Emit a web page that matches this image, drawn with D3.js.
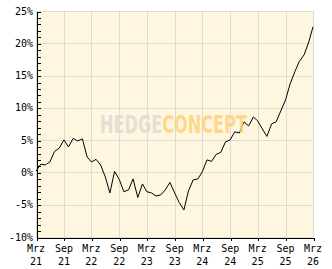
<!DOCTYPE html>
<html>
<head>
<meta charset="utf-8">
<script src="https://cdn.jsdelivr.net/npm/d3@7"></script>
<style>
body { margin: 0; background: #fff; }
svg { display: block; }
.lbl { font-family: "DejaVu Sans Mono", monospace; font-size: 10px; fill: #000; }
</style>
</head>
<body>
<svg width="332" height="269"></svg>
<script>
// monthly values, % performance
var months = ["2021-03","2021-04","2021-05","2021-06","2021-07","2021-08","2021-09","2021-10","2021-11","2021-12",
    "2022-01","2022-02","2022-03","2022-04","2022-05","2022-06","2022-07","2022-08","2022-09","2022-10",
    "2022-11","2022-12","2023-01","2023-02","2023-03","2023-04","2023-05","2023-06","2023-07","2023-08",
    "2023-09","2023-10","2023-11","2023-12","2024-01","2024-02","2024-03","2024-04","2024-05","2024-06",
    "2024-07","2024-08","2024-09","2024-10","2024-11","2024-12","2025-01","2025-02","2025-03","2025-04",
    "2025-05","2025-06","2025-07","2025-08","2025-09","2025-10","2025-11","2025-12","2026-01","2026-02","2026-03"];
var values = [0.2, 1.27, 1.16, 1.63, 3.26, 3.75, 5.04, 3.95, 5.27, 4.88,
    5.19, 2.4, 1.63, 2.02, 1.16, -0.7, -3.18, 0.16, -1.1, -2.98,
    -2.71, -1.0, -3.88, -1.78, -2.98, -3.18, -3.64, -3.49, -2.71, -1.55,
    -3.18, -4.65, -5.81, -2.87, -1.16, -1.0, 0.08, 1.94, 1.71, 2.79,
    3.1, 4.73, 5.04, 6.28, 6.12, 7.83, 7.2, 8.6, 7.98, 6.74,
    5.58, 7.52, 7.83, 9.53, 11.24, 13.72, 15.58, 17.2, 18.2, 20.2, 22.56];

var yTicks = [-10, -5, 0, 5, 10, 15, 20, 25];
var xTickDates = ["2021-03","2021-09","2022-03","2022-09","2023-03","2023-09",
    "2024-03","2024-09","2025-03","2025-09","2026-03"];
var xTickMonths = ["Mrz","Sep","Mrz","Sep","Mrz","Sep","Mrz","Sep","Mrz","Sep","Mrz"];
var xTickYears = ["21","21","22","22","23","23","24","24","25","25","26"];

var svg = d3.select("svg");
var mLeft = 36, mRight = 313, mTop = 11, mBottom = 237;
var parse = d3.timeParse("%Y-%m");
var data = months.map(function(m, i) { return {date: parse(m), value: values[i]}; });
var xTicks = xTickDates.map(parse);

var x = d3.scaleTime()
    .domain([parse("2021-03"), parse("2026-03")])
    .range([mLeft, mRight]);
var y = d3.scaleLinear().domain([-10, 25]).range([mBottom, mTop]);

// plot background
svg.append("rect")
    .attr("x", mLeft).attr("y", mTop)
    .attr("width", mRight - mLeft).attr("height", mBottom - mTop)
    .attr("fill", "#fef6df");

// grid
var grid = svg.append("g").attr("stroke", "#dddbd6").attr("shape-rendering", "crispEdges");
grid.selectAll("line.h").data(yTicks).enter().append("line")
    .attr("x1", mLeft).attr("x2", mRight)
    .attr("y1", function(d) { return Math.round(y(d)) + 0.5; })
    .attr("y2", function(d) { return Math.round(y(d)) + 0.5; });
grid.selectAll("line.v").data(xTicks).enter().append("line")
    .attr("y1", mTop).attr("y2", mBottom)
    .attr("x1", function(d) { return Math.round(x(d)) + 0.5; })
    .attr("x2", function(d) { return Math.round(x(d)) + 0.5; });

// line
var line = d3.line()
    .x(function(d) { return x(d.date); })
    .y(function(d) { return y(d.value); });
svg.append("path")
    .datum(data)
    .attr("d", line)
    .attr("fill", "none")
    .attr("stroke", "#000")
    .attr("stroke-width", 1);

// watermark, one text with two coloured parts
var wm = svg.append("text")
    .attr("x", 100).attr("y", 133)
    .attr("textLength", 147).attr("lengthAdjust", "spacingAndGlyphs")
    .style("font-family", "'DejaVu Sans Condensed', 'DejaVu Sans', sans-serif")
    .style("font-weight", "bold")
    .style("font-size", "24px")
    .attr("fill-opacity", 0.85);
wm.append("tspan").attr("fill", "#dedbd4").text("HEDGE");
wm.append("tspan").attr("fill", "#ffd27a").text("CONCEPT");

// axes
var yAxis = d3.axisLeft(y)
    .tickValues(d3.range(-10, 26, 1))
    .tickSizeInner(-4).tickSizeOuter(0)
    .tickFormat("");
svg.append("g")
    .attr("transform", "translate(" + (mLeft + 0.5) + ",0)")
    .attr("shape-rendering", "crispEdges")
    .call(yAxis)
    .call(function(g) { g.selectAll(".tick line").attr("transform", "translate(0,0.5)"); });

var xAxis = d3.axisBottom(x)
    .tickValues(xTicks)
    .tickSizeInner(3).tickSizeOuter(0)
    .tickFormat("");
svg.append("g")
    .attr("transform", "translate(0," + (mBottom + 0.5) + ")")
    .attr("shape-rendering", "crispEdges")
    .call(xAxis)
    .call(function(g) { g.selectAll(".tick line").attr("transform", "translate(0.5,0)"); });

// labels
svg.selectAll("text.yl").data(yTicks).enter().append("text")
    .attr("class", "lbl")
    .attr("x", 33)
    .attr("y", function(d) { return y(d); })
    .attr("dy", "0.35em")
    .attr("text-anchor", "end")
    .text(function(d) { return d + "%"; });

var xl = svg.selectAll("g.xl").data(xTicks).enter().append("g")
    .attr("transform", function(d) { return "translate(" + x(d) + ",0)"; });
xl.append("text").attr("class", "lbl").attr("y", 252).attr("text-anchor", "middle")
    .text(function(d, i) { return xTickMonths[i]; });
xl.append("text").attr("class", "lbl").attr("y", 265).attr("text-anchor", "middle")
    .text(function(d, i) { return xTickYears[i]; });
</script>
</body>
</html>
